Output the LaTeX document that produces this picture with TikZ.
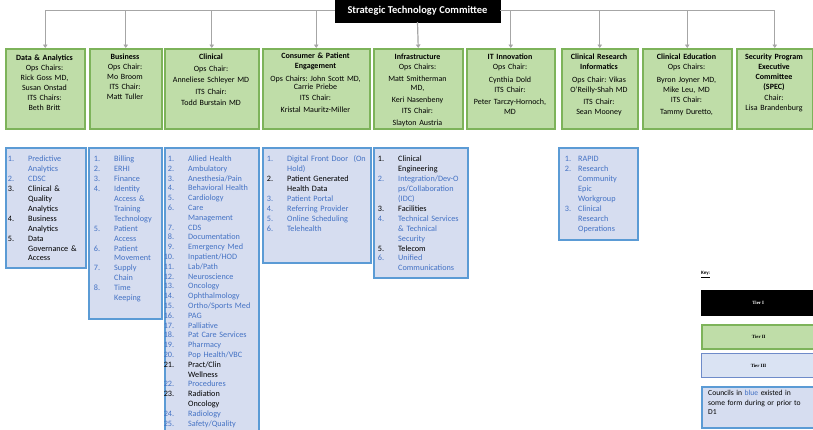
\documentclass[tikz,border=0pt]{standalone}
\usepackage{fontspec}
\setmainfont{Carlito}
\newfontfamily\tierfont{Liberation Serif}
\usetikzlibrary{arrows.meta}
\definecolor{gfill}{HTML}{BFDDA8}
\definecolor{gline}{HTML}{7DB35A}
\definecolor{bfill}{HTML}{D6DDF0}
\definecolor{bline}{HTML}{5B9BD5}
\definecolor{btext}{HTML}{4472C4}
\definecolor{connc}{HTML}{A6A6A6}
\definecolor{tfill}{HTML}{DAE3F3}
\definecolor{tline}{HTML}{6E8BC9}
\frenchspacing
\newlength\numw
\setlength\numw{24pt}
\newcommand\fst{\rule{0pt}{7pt}}
\newcommand\li[3]{\par\hangindent=\numw\hangafter=1\noindent{\def\\{\newline}\color{#1}\fst\makebox[\numw][l]{\makebox[10pt][r]{#2}}#3}\par}
\begin{document}
\begin{tikzpicture}[x=1pt,y=-1pt,
  gbox/.style={draw=gline, line width=1.5pt, fill=gfill, anchor=north west, inner sep=0pt},
  bbox/.style={draw=bline, line width=1.8pt, fill=bfill, anchor=north west, inner sep=0pt},
  gtext/.style={anchor=north, inner sep=0pt, align=center, font=\fontsize{8}{10}\selectfont},
  ltext/.style={anchor=north west, inner sep=0pt, text width=110pt, font=\fontsize{8.2}{9.93}\selectfont\raggedright},
  conn/.style={draw=connc, line width=1.2pt, -{Triangle[length=3.5pt,width=4.5pt]}}]
\useasboundingbox (0,0) rectangle (813,429);
\clip (0,0) rectangle (813,429);

% Tier I
\node[fill=black, draw=black, minimum width=165pt, minimum height=23pt, inner sep=0pt,
      text=white, font=\bfseries\fontsize{10.5}{12}\selectfont] (stc) at (417.5,10.5) {Strategic Technology Committee};

% Tier II boxes
\node[gbox, minimum width=79pt, minimum height=80pt] (g1) at (5,48) {};
\node[gbox, minimum width=72pt, minimum height=80pt] (g2) at (89,48) {};
\node[gbox, minimum width=94pt, minimum height=80pt] (g3) at (164,48) {};
\node[gbox, minimum width=107pt, minimum height=80pt] (g4) at (262,48) {};
\node[gbox, minimum width=89pt, minimum height=80pt] (g5) at (373,48) {};
\node[gbox, minimum width=88pt, minimum height=80pt] (g6) at (466,48) {};
\node[gbox, minimum width=76pt, minimum height=80pt] (g7) at (561,48) {};
\node[gbox, minimum width=89pt, minimum height=80pt] (g8) at (642,48) {};
\node[gbox, minimum width=76pt, minimum height=80pt] (g9) at (736,48) {};

\node[gtext, text width=79pt] (g1t) at (44.5,53) {\fst\textbf{Data \& Analytics}\\Ops Chairs:\\Rick Goss MD,\\Susan Onstad\\ITS Chairs:\\Beth Britt};
\node[gtext, text width=72pt] (g2t) at (125,52.5) {\fst\textbf{Business}\\Ops Chair:\\Mo Broom\\ITS Chair:\\Matt Tuller};
\node[gtext, text width=94pt] (g3t) at (211,52.5) {\fst\textbf{Clinical}\\[1.5pt]Ops Chair:\\[1.5pt]Anneliese Schleyer MD\\[1.5pt]ITS Chair:\\[1.5pt]Todd Burstain MD};
\node[gtext, text width=107pt] (g4t) at (315.5,51.5) {\fst\textbf{Consumer \& Patient}\\\textbf{Engagement}\\[3pt]Ops Chairs: John Scott MD,\\[-2pt]Carrie Priebe\\[1pt]ITS Chair:\\[2pt]Kristal Mauritz-Miller};
\node[gtext, text width=89pt] (g5t) at (417.5,52.5) {\fst\textbf{Infrastructure}\\Ops Chairs:\\[2pt]Matt Smitherman\\[-1pt]MD,\\[2pt]Keri Nasenbeny\\[1pt]ITS Chair:\\[2pt]Slayton Austria};
\node[gtext, text width=88pt] (g6t) at (510,52.5) {\fst\textbf{IT Innovation}\\Ops Chair:\\[3pt]Cynthia Dold\\ITS Chair:\\[2pt]Peter Tarczy-Hornoch,\\MD};
\node[gtext, text width=76pt] (g7t) at (599,52.5) {\fst\textbf{Clinical Research}\\\textbf{Informatics}\\[3pt]Ops Chair: Vikas\\O'Reilly-Shah MD\\[2pt]ITS Chair:\\Sean Mooney};
\node[gtext, text width=89pt] (g8t) at (686.5,52.5) {\fst\textbf{Clinical Education}\\Ops Chairs:\\[3pt]Byron Joyner MD,\\Mike Leu, MD\\ITS Chair:\\[2pt]Tammy Duretto,};
\node[gtext, text width=76pt] (g9t) at (774,52.5) {\fst\textbf{Security Program}\\\textbf{Executive}\\\textbf{Committee}\\\textbf{(SPEC)}\\[1pt]Chair:\\Lisa Brandenburg};

% connectors
\draw[conn] (stc.west) -| (g1.north);
\draw[conn] (stc.west) -| (g2.north);
\draw[conn] (stc.west) -| (g3.north);
\draw[conn] (stc.west) -| (g4.north);
\draw[conn] (stc.south) -- (g5.north);
\draw[conn] (stc.east) -| (g6.north);
\draw[conn] (stc.east) -| (g7.north);
\draw[conn] (stc.east) -| (g8.north);
\draw[conn] (stc.east) -| (g9.north);

% Tier III boxes
\node[bbox, minimum width=80pt, minimum height=120pt] (b1) at (5,147) {};
\node[bbox, minimum width=73pt, minimum height=171pt] (b2) at (88,147) {};
\node[bbox, minimum width=94pt, minimum height=290pt] (b3) at (164,147) {};
\node[bbox, minimum width=108pt, minimum height=115pt] (b4) at (262,147) {};
\node[bbox, minimum width=94pt, minimum height=130pt] (b5) at (373,147) {};
\node[bbox, minimum width=79pt, minimum height=92pt] (b7) at (558,147) {};

\node[ltext] (b1t) at (4,151.5) {%
\li{btext}{1.}{Predictive\\Analytics}
\li{btext}{2.}{CDSC}
\li{black}{3.}{Clinical \&\\Quality\\Analytics}
\li{black}{4.}{Business\\Analytics}
\li{black}{5.}{Data\\Governance \&\\Access}};

\node[ltext] (b2t) at (90,151.5) {%
\li{btext}{1.}{Billing}
\li{btext}{2.}{ERHI}
\li{btext}{3.}{Finance}
\li{btext}{4.}{Identity\\Access \&\\Training\\Technology}
\li{btext}{5.}{Patient\\Access}
\li{btext}{6.}{Patient\\Movement}
\li{btext}{7.}{Supply\\Chain}
\li{btext}{8.}{Time\\Keeping}};

\node[ltext, font=\fontsize{8.2}{9.8}\selectfont\raggedright] (b3t) at (164,151.5) {%
\li{btext}{1.}{Allied Health}
\li{btext}{2.}{Ambulatory}
\li{btext}{3.}{Anesthesia/Pain}
\li{btext}{4.}{Behavioral Health}
\li{btext}{5.}{Cardiology}
\li{btext}{6.}{Care\\Management}
\li{btext}{7.}{CDS}
\li{btext}{8.}{Documentation}
\li{btext}{9.}{Emergency Med}
\li{btext}{10.}{Inpatient/HOD}
\li{btext}{11.}{Lab/Path}
\li{btext}{12.}{Neuroscience}
\li{btext}{13.}{Oncology}
\li{btext}{14.}{Ophthalmology}
\li{btext}{15.}{Ortho/Sports Med}
\li{btext}{16.}{PAG}
\li{btext}{17.}{Palliative}
\li{btext}{18.}{Pat Care Services}
\li{btext}{19.}{Pharmacy}
\li{btext}{20.}{Pop Health/VBC}
\li{black}{21.}{Pract/Clin\\Wellness}
\li{btext}{22.}{Procedures}
\li{black}{23.}{Radiation\\Oncology}
\li{btext}{24.}{Radiology}
\li{btext}{25.}{Safety/Quality}};

\node[ltext] (b4t) at (263,151.5) {%
\li{btext}{1.}{Digital Front Door~~(On\\Hold)}
\li{black}{2.}{Patient Generated\\Health Data}
\li{btext}{3.}{Patient Portal}
\li{btext}{4.}{Referring Provider}
\li{btext}{5.}{Online Scheduling}
\li{btext}{6.}{Telehealth}};

\node[ltext] (b5t) at (374,151.5) {%
\li{black}{1.}{Clinical\\Engineering}
\li{btext}{2.}{Integration/Dev-O\\ps/Collaboration\\(IDC)}
\li{black}{3.}{Facilities}
\li{btext}{4.}{Technical Services\\\& Technical\\Security}
\li{black}{5.}{Telecom}
\li{btext}{6.}{Unified\\Communications}};

\node[ltext] (b7t) at (561,151.5) {\setlength\numw{17pt}%
\li{btext}{1.}{RAPID}
\li{btext}{2.}{Research\\Community\\Epic\\Workgroup}
\li{btext}{3.}{Clinical\\Research\\Operations}};

% Key
\node[anchor=west, inner sep=0pt, font=\bfseries\fontsize{5}{6}\selectfont] (key) at (701,274.5) {\underline{Key:}};
\node[fill=black, draw=black, minimum width=114pt, minimum height=25pt, anchor=north west, inner sep=0pt,
      text=white, font=\tierfont\bfseries\fontsize{4.8}{5}\selectfont] (t1) at (701,290) {Tier I};
\node[gbox, minimum width=114pt, minimum height=24pt, font=\tierfont\bfseries\fontsize{4.8}{5}\selectfont] (t2) at (701,324) {Tier II};
\node[draw=tline, line width=1pt, fill=tfill, minimum width=114pt, minimum height=24pt, anchor=north west, inner sep=0pt,
      font=\tierfont\bfseries\fontsize{4.8}{5}\selectfont] (t3) at (701,353) {Tier III};
\node[bbox, minimum width=114pt, minimum height=41pt] (cb) at (701,386) {};
\node[anchor=north west, inner sep=0pt, text width=104pt, align=left, font=\fontsize{7.6}{9.5}\selectfont] (cbt) at (708,388.5)
  {\fst Councils in \textcolor{btext}{blue} existed in\\some form during or prior to\\D1};
\end{tikzpicture}
\end{document}
